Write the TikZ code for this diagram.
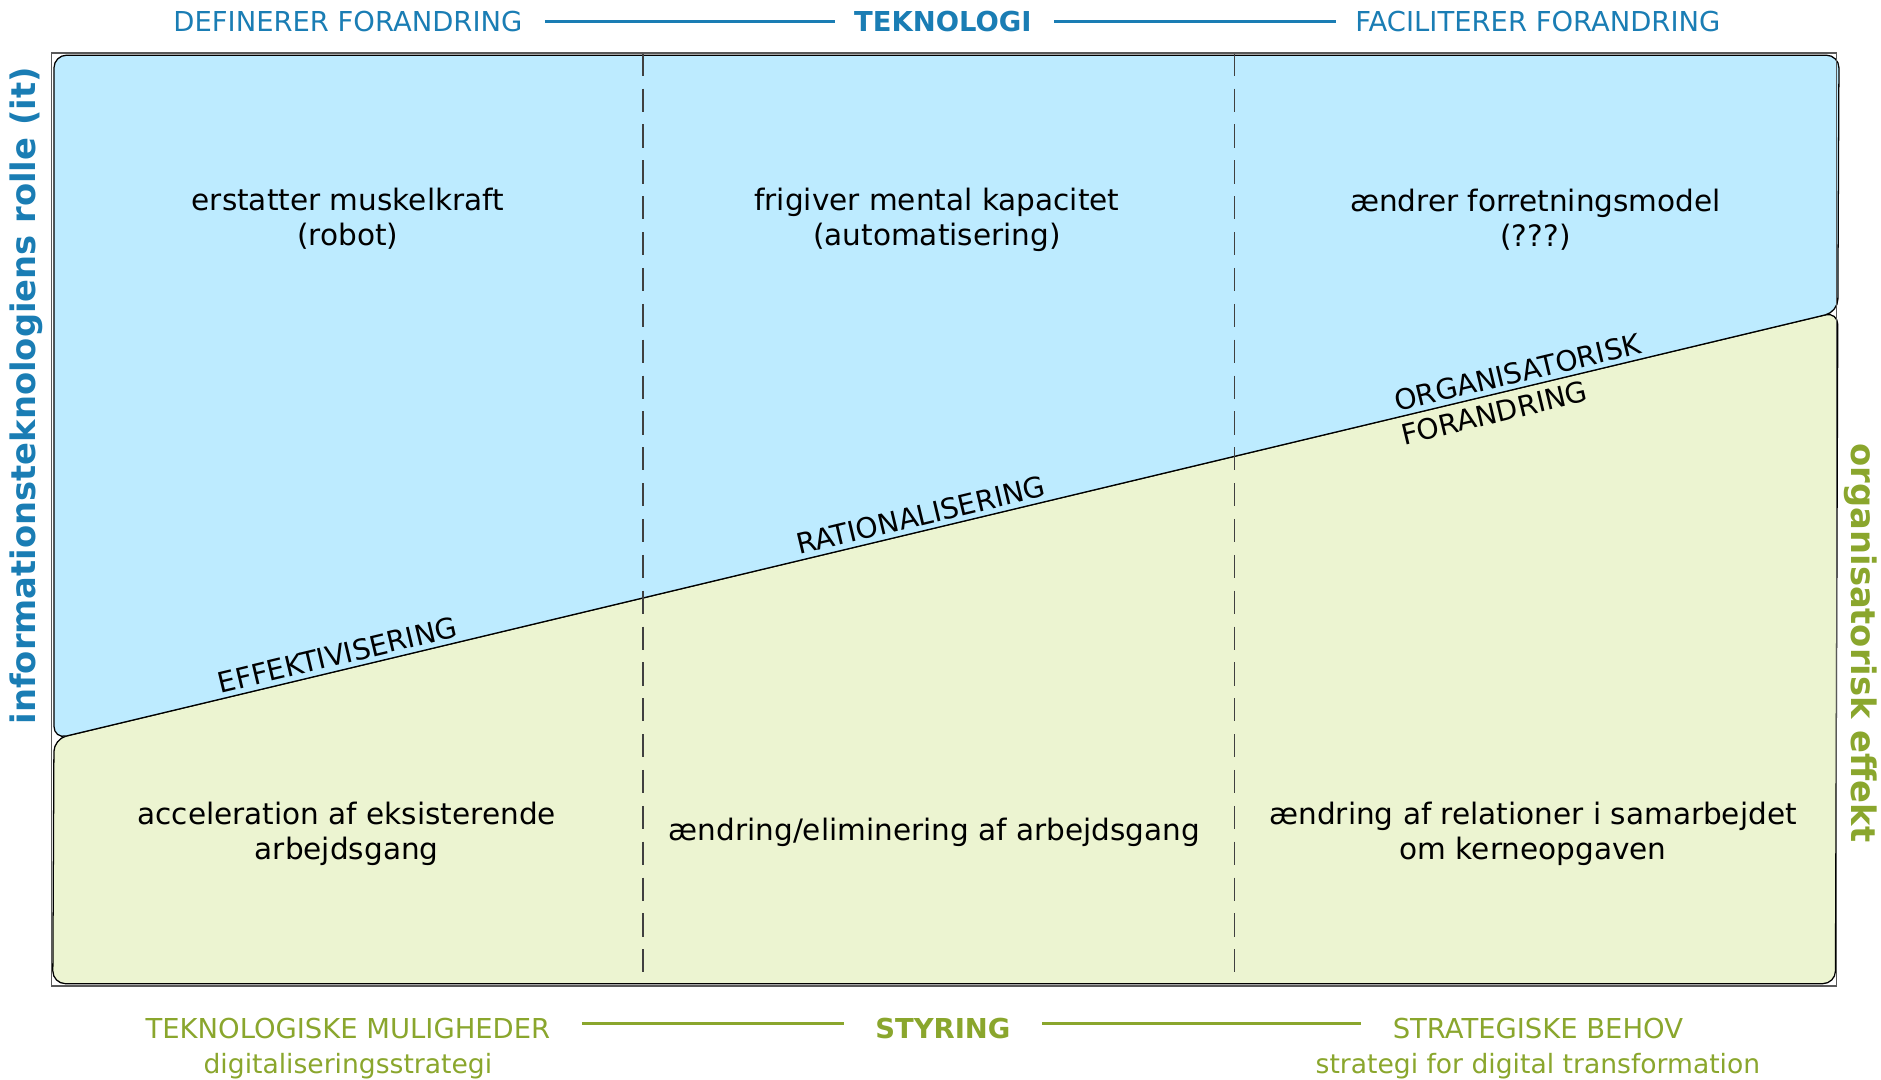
\documentclass[tikz,border=0pt]{standalone}
\usepackage{fontspec}
\setmainfont{DejaVu Sans}
\usepackage{xcolor}
\usetikzlibrary{calc}
\definecolor{itblue}{RGB}{26,125,180}
\definecolor{orggreen}{RGB}{138,166,45}
\definecolor{skyfill}{RGB}{189,235,255}
\definecolor{leaffill}{RGB}{236,244,209}

\tikzset{
  celltext/.style={align=center, font=\fontsize{7}{8.3}\selectfont},
  bandtext/.style={sloped, inner sep=1pt, font=\fontsize{6.7}{8.6}\selectfont},
  toptext/.style={text=itblue, font=\fontsize{6.5}{7.8}\selectfont},
  bottext/.style={text=orggreen, font=\fontsize{6.5}{7.8}\selectfont},
  subtext/.style={text=orggreen, font=\fontsize{6.3}{7.6}\selectfont},
  sidetext/.style={font=\fontsize{8}{9.6}\selectfont\bfseries},
  topline/.style={itblue, line width=0.55pt, shorten <=1.8pt, shorten >=1pt},
  botline/.style={orggreen, line width=0.55pt, shorten <=4pt, shorten >=4pt},
  skyzone/.style={fill=skyfill, draw=black, line width=0.3pt, rounded corners=3pt},
  leafzone/.style={fill=leaffill, draw=black, line width=0.3pt, rounded corners=3pt},
  divider/.style={draw=black!75, line width=0.3pt, dash pattern=on 5.5pt off 3pt},
  frame/.style={draw=black!65, line width=0.4pt}
}

\begin{document}
\begin{tikzpicture}[x=0.01cm, y=-0.01cm]
  \useasboundingbox (0,0) rectangle (1568,900);
  % corners of the band line
  \coordinate (bl) at (45,616);
  \coordinate (br) at (1532,260);
  % lower zone (organisation)
  \draw[leafzone] (br) -- (bl) -- (44,820) -- (1530,820) -- cycle;
  % upper zone (technology)
  \draw[skyzone] (bl) -- (45,46) -- (1533,46) -- (br) -- cycle;
  % column dividers
  \draw[divider] (536,44) -- (536,822);
  \draw[divider] (1029,44) -- (1029,822);
  \draw[frame] (43,44) rectangle (1531,822);

  % labels along the band line
  \path (bl) -- (br)
    node[bandtext, above, pos=0.161] (effekt) {EFFEKTIVISERING}
    node[bandtext, above, pos=0.488] (ratio) {RATIONALISERING}
    node[bandtext, anchor=south west, pos=0.751] (organ) {ORGANISATORISK}
    node[bandtext, anchor=north west, inner sep=1.6pt, pos=0.749] (forand) {FORANDRING};

  % top cells
  \node[celltext] (robot) at (290,182) {erstatter muskelkraft\\(robot)};
  \node[celltext] (automat) at (781,183) {frigiver mental kapacitet\\(automatisering)};
  \node[celltext] (model) at (1280,183) {ændrer forretningsmodel\\(???)};
  % bottom cells
  \node[celltext] (accel) at (289,695) {acceleration af eksisterende\\arbejdsgang};
  \node[celltext] (elimin) at (779,694) {ændring/eliminering af arbejdsgang};
  \node[celltext] (relat) at (1278,695) {ændring af relationer i samarbejdet\\om kerneopgaven};

  % top axis
  \node[toptext] (definer) at (290,18) {DEFINERER FORANDRING};
  \node[toptext, font=\fontsize{6.5}{7.8}\selectfont\bfseries] (teknologi) at (786,18) {TEKNOLOGI};
  \node[toptext] (facil) at (1282,18) {FACILITERER FORANDRING};
  \draw[topline] (definer) -- (teknologi);
  \draw[topline] (teknologi) -- (facil);

  % bottom axis
  \node[bottext] (muligh) at (290,857) {TEKNOLOGISKE MULIGHEDER};
  \node[bottext, font=\fontsize{6.5}{7.8}\selectfont\bfseries] (styring) at (786,857) {STYRING};
  \node[bottext] (behov) at (1282,857) {STRATEGISKE BEHOV};
  \node[subtext] (digstrat) at (290,889) {digitaliseringsstrategi};
  \node[subtext] (transf) at (1282,889) {strategi for digital transformation};
  \draw[botline] ([yshift=1.1pt]muligh.east) -- ([yshift=1.1pt]muligh.east -| styring.west);
  \draw[botline] ([yshift=1.1pt]styring.east) -- ([yshift=1.1pt]styring.east -| behov.west);

  % side axes
  \node[sidetext, text=itblue, rotate=90] (itrolle) at (22,330) {informationsteknologiens rolle (it)};
  \node[sidetext, text=orggreen, rotate=-90] (orgeff) at (1551,536) {organisatorisk effekt};
\end{tikzpicture}
\end{document}
